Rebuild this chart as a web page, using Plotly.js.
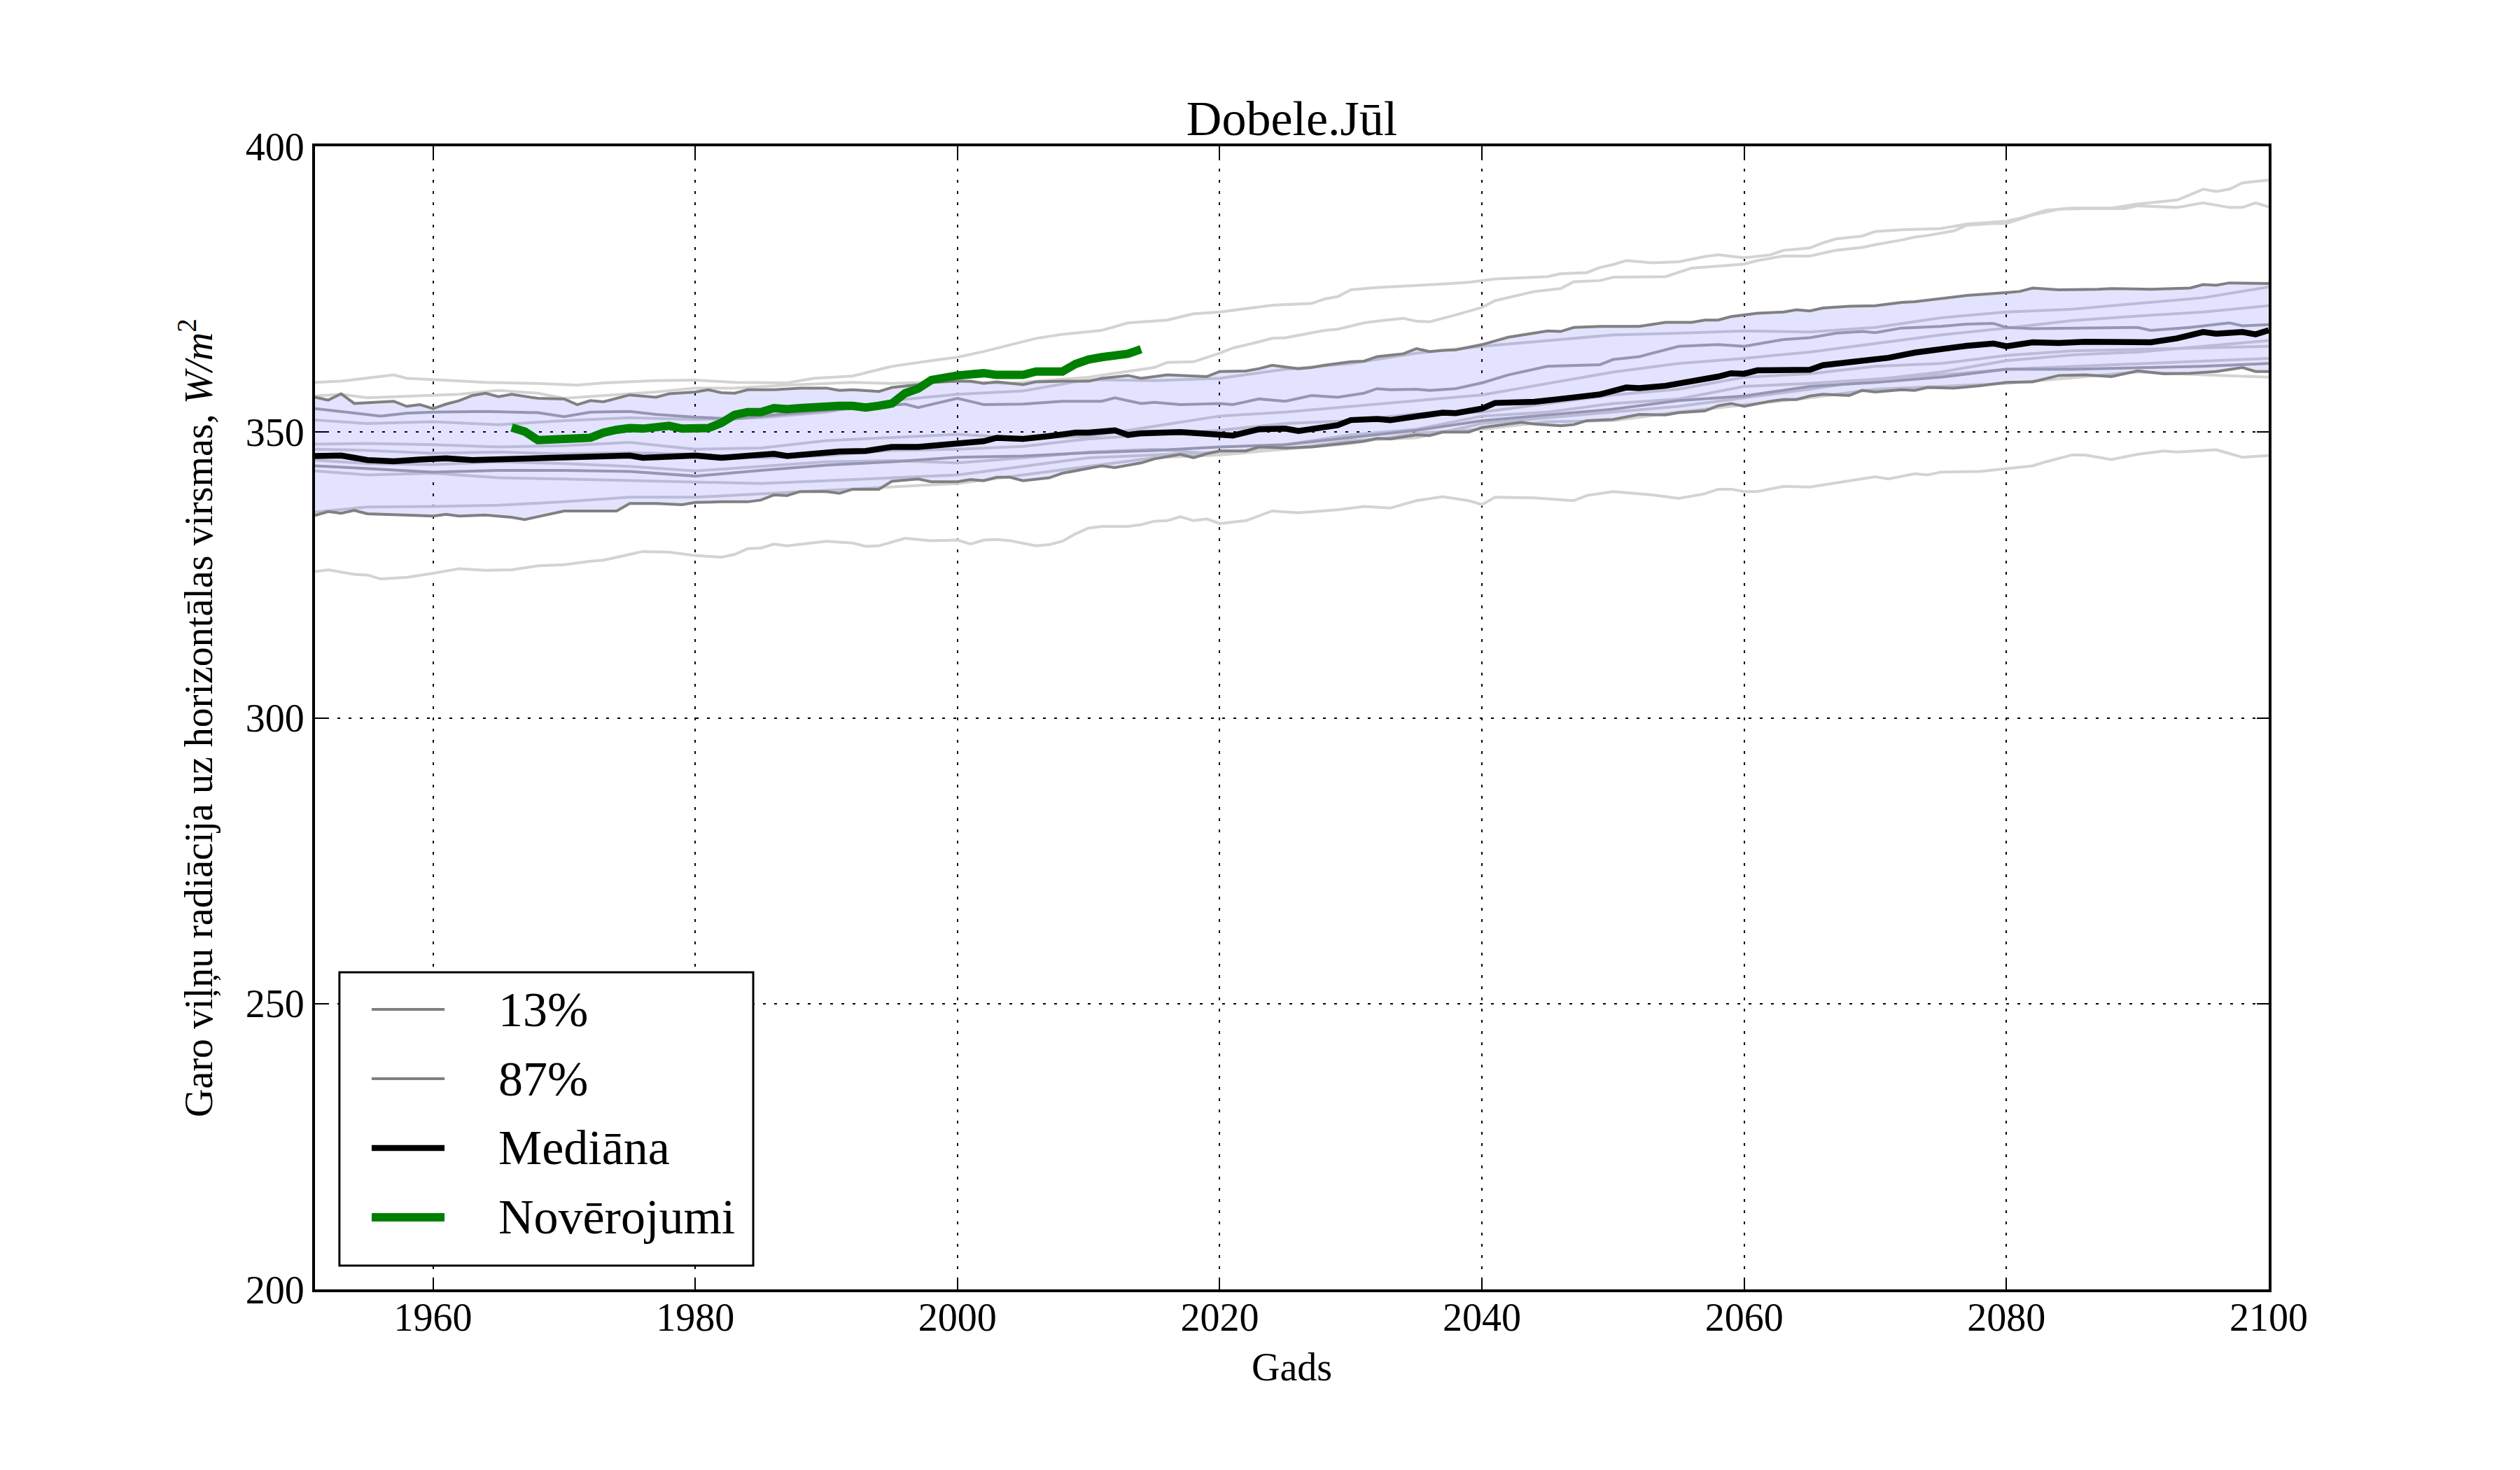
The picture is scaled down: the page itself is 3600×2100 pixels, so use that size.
<!DOCTYPE html>
<html>
<head>
<meta charset="utf-8">
<script src="https://cdn.plot.ly/plotly-3.0.1.min.js"></script>
<style>html,body{margin:0;padding:0;background:#fff;}#chart{width:3600px;height:2100px;}</style>
</head>
<body>
<div id="chart"></div>
<script>
// ---------------- data ----------------
const titleText = "Dobele.Jūl";
const xTitle = "Gads";
const yTitle = "Garo viļņu radiācija uz horizontālas virsmas, <i>W/m</i><sup>2</sup>";
const xTicks = [1960, 1980, 2000, 2020, 2040, 2060, 2080, 2100];
const yTicks = [200, 250, 300, 350, 400];
const legendNames = ["13%", "87%", "Mediāna", "Novērojumi"];

const obsYears = [1966,1967,1968,1969,1970,1971,1972,1973,1974,1975,1976,1977,1978,1979,1980,1981,1982,1983,1984,1985,1986,1987,1988,1989,1990,1991,1992,1993,1994,1995,1996,1997,1998,1999,2000,2001,2002,2003,2004,2005,2006,2007,2008,2009,2010,2011,2012,2013,2014];
const obsVals = [350.8,350.1,348.6,348.6,348.7,348.9,349.0,349.9,350.4,350.7,350.6,350.9,351.1,350.6,350.5,350.7,351.6,353.0,353.5,353.5,354.2,354.0,354.2,354.4,354.6,354.6,354.6,354.3,354.6,355.0,356.8,357.6,359.1,359.6,359.9,360.1,360.3,360.0,360.0,360.0,360.6,360.7,360.6,361.9,362.7,363.1,363.4,363.7,364.5];

const medYears = [1951,1953,1955,1957,1959,1961,1963,1966,1968,1970,1973,1975,1976,1978,1980,1982,1984,1986,1987,1989,1991,1993,1995,1997,2000,2002,2003,2005,2007,2009,2010,2011,2012,2013,2014,2017,2019,2020,2021,2023,2025,2026,2028,2029,2030,2032,2033,2035,2037,2038,2040,2041,2044,2046,2048,2049,2051,2052,2054,2056,2058,2059,2060,2061,2063,2065,2066,2068,2070,2071,2073,2075,2077,2079,2080,2082,2084,2086,2089,2091,2093,2095,2096,2098,2099,2100];
const medVals = [345.8,345.9,345.1,344.9,345.2,345.4,345.1,345.3,345.3,345.6,345.7,345.9,345.5,345.7,345.9,345.5,345.9,346.2,345.8,346.2,346.6,346.7,347.4,347.4,348.0,348.4,349.0,348.8,349.3,349.9,349.9,350.2,350.3,349.5,349.8,350.0,349.7,349.7,349.4,350.5,350.6,350.2,351.0,351.2,352.1,352.3,352.1,352.8,353.4,353.3,354.1,355.1,355.3,355.8,356.2,356.6,357.8,357.7,358.1,358.8,359.7,360.3,360.2,360.8,360.9,360.9,361.7,362.2,362.6,363.0,363.9,364.6,365.1,365.5,365.0,365.7,365.6,365.8,365.8,365.7,366.4,367.5,367.2,367.5,367.1,367.8];

const p87Years = [1951,1952,1953,1954,1957,1958,1959,1960,1961,1962,1963,1964,1965,1966,1968,1970,1971,1972,1973,1975,1977,1978,1980,1981,1982,1983,1984,1986,1988,1990,1991,1992,1994,1995,1997,1998,2000,2001,2002,2003,2005,2006,2008,2010,2011,2013,2014,2016,2019,2020,2022,2023,2024,2026,2027,2028,2030,2031,2032,2034,2035,2036,2037,2038,2040,2042,2045,2046,2047,2049,2052,2054,2056,2057,2058,2059,2061,2063,2064,2065,2066,2068,2070,2072,2073,2075,2077,2080,2081,2082,2084,2087,2088,2091,2093,2094,2095,2096,2097,2100];
const p87Vals = [356.1,355.6,356.7,355.0,355.4,354.5,354.8,354.1,354.9,355.5,356.4,356.8,356.2,356.6,355.9,355.8,354.8,355.5,355.3,356.5,356.1,356.7,357.0,357.4,356.9,356.8,357.4,357.4,357.7,357.7,357.3,357.4,357.1,357.8,358.3,358.7,358.9,358.9,358.5,358.8,358.3,358.8,358.9,358.9,359.4,359.9,359.4,360.0,359.7,360.6,360.7,361.1,361.7,361.1,361.3,361.7,362.3,362.4,363.2,363.7,364.6,364.1,364.3,364.4,365.3,366.6,367.7,367.6,368.3,368.5,368.5,369.2,369.2,369.6,369.6,370.2,370.8,371.0,371.4,371.2,371.7,372.0,372.1,372.7,372.8,373.3,373.9,374.4,374.6,375.2,374.9,375.0,375.1,375.0,375.2,375.2,375.8,375.7,376.1,376.0];

const p13Years = [1951,1952,1953,1954,1955,1957,1959,1960,1961,1962,1964,1966,1967,1968,1970,1972,1974,1975,1977,1979,1980,1982,1984,1985,1986,1987,1988,1990,1991,1992,1994,1995,1997,1998,2000,2001,2002,2003,2004,2005,2007,2008,2010,2011,2012,2014,2015,2017,2018,2019,2020,2022,2023,2025,2027,2029,2031,2032,2033,2035,2036,2037,2039,2040,2042,2043,2044,2046,2047,2048,2050,2052,2054,2055,2057,2058,2059,2060,2062,2063,2064,2065,2066,2068,2069,2070,2072,2073,2074,2076,2078,2080,2082,2084,2086,2088,2090,2092,2094,2096,2098,2099,2100];
const p13Vals = [335.4,336.1,335.8,336.3,335.7,335.6,335.4,335.3,335.6,335.3,335.5,335.1,334.7,335.2,336.2,336.2,336.2,337.5,337.5,337.3,337.7,337.8,337.8,338.1,339.0,338.9,339.6,339.6,339.3,340.0,340.0,341.4,341.8,341.3,341.3,341.7,341.5,342.1,342.1,341.5,342.0,342.8,343.6,344.1,343.8,344.6,345.3,346.1,345.5,346.2,346.7,346.7,347.4,347.2,347.4,347.9,348.4,348.9,348.8,349.5,349.4,350.0,350.0,350.8,351.4,351.7,351.4,351.1,351.3,352.0,352.2,353.1,353.0,353.4,353.7,354.6,355.0,354.5,355.4,355.7,355.7,356.3,356.6,356.4,357.3,357.0,357.4,357.3,357.8,357.7,358.1,358.7,358.8,359.9,360.0,359.7,360.7,360.2,360.3,360.6,361.3,360.6,360.6];

// ensemble members outside the band (light gray)
const topAYears = [1951,1953,1957,1958,1960,1964,1968,1971,1973,1977,1980,1983,1987,1989,1992,1995,1998,2000,2002,2004,2006,2008,2011,2013,2016,2018,2020,2023,2024,2027,2028,2029,2030,2032,2035,2037,2039,2041,2045,2046,2048,2049,2050,2051,2053,2055,2057,2058,2060,2062,2063,2065,2066,2067,2069,2070,2072,2075,2077,2079,2080,2081,2083,2085,2088,2090,2092,2093,2094,2095,2096,2097,2098,2100];
const topAVals = [358.7,358.9,360.0,359.4,359.2,358.7,358.5,358.2,358.6,359.0,359.1,358.7,358.6,359.4,359.8,361.5,362.5,363.1,364.1,365.3,366.4,367.1,367.8,369.1,369.6,370.7,371.0,371.9,372.2,372.5,373.3,373.7,374.9,375.3,375.6,375.9,376.2,376.8,377.2,377.7,377.9,378.8,379.3,380.0,379.6,379.8,380.7,381.0,380.5,381.0,381.8,382.2,383.1,383.8,384.3,385.1,385.4,385.6,386.4,386.7,386.9,387.4,388.8,389.2,389.2,389.9,390.4,390.6,391.5,392.5,392.1,392.5,393.6,394.1];
const topBYears = [1951,1953,1955,1960,1962,1965,1968,1970,1972,1977,1980,1983,1987,1992,1995,1997,2000,2002,2004,2006,2008,2010,2012,2015,2016,2018,2020,2021,2023,2024,2025,2028,2029,2031,2032,2034,2035,2036,2038,2040,2041,2044,2046,2047,2049,2050,2054,2056,2059,2060,2061,2063,2065,2066,2067,2069,2070,2072,2073,2074,2076,2077,2079,2080,2082,2084,2086,2089,2090,2093,2095,2097,2098,2099,2100];
const topBVals = [356.3,356.6,356.0,356.4,356.6,357.3,356.8,355.9,356.2,357.0,357.7,357.7,358.2,358.7,358.5,358.7,358.9,358.7,358.5,358.9,359.3,359.6,360.3,361.3,362.2,362.3,363.8,364.7,365.8,366.4,366.5,367.8,368.0,369.1,369.4,369.9,369.4,369.3,370.5,371.8,373.0,374.6,375.1,376.3,376.5,377.1,377.2,378.7,379.2,379.4,380.0,380.8,380.8,381.3,381.8,382.3,382.8,383.6,384.1,384.4,385.2,386.2,386.5,386.5,388.0,389.0,389.1,389.1,389.6,389.3,390.1,389.3,389.3,390.1,389.4];
const botYears = [1951,1952,1954,1955,1956,1958,1960,1962,1964,1966,1968,1970,1972,1973,1975,1976,1978,1980,1982,1983,1984,1985,1986,1987,1990,1992,1993,1994,1996,1998,2000,2001,2002,2003,2004,2006,2007,2008,2009,2010,2011,2013,2014,2015,2016,2017,2018,2019,2020,2022,2024,2026,2029,2031,2033,2035,2037,2039,2040,2041,2044,2047,2048,2050,2053,2055,2057,2058,2059,2060,2061,2063,2065,2067,2070,2071,2073,2074,2075,2078,2080,2082,2083,2085,2086,2088,2090,2092,2093,2094,2096,2098,2100];
const botVals = [325.6,325.9,325.1,325.0,324.3,324.6,325.3,326.1,325.8,325.9,326.6,326.8,327.4,327.6,328.6,329.1,329.0,328.4,328.1,328.6,329.6,329.7,330.4,330.1,330.9,330.6,330.0,330.1,331.4,331.0,331.1,330.4,331.1,331.2,331.0,330.1,330.3,330.9,332.2,333.2,333.5,333.5,333.8,334.4,334.5,335.2,334.5,334.8,334.0,334.5,336.2,335.9,336.4,337.0,336.7,338.0,338.7,338.0,337.3,338.6,338.5,338.0,338.9,339.6,339.0,338.4,339.2,340.0,340.0,339.6,339.6,340.5,340.4,341.1,342.2,341.8,342.7,342.5,343.0,343.1,343.6,344.1,344.8,346.0,346.0,345.2,346.1,346.7,346.5,346.6,346.9,345.6,345.9];

// ensemble members inside the band
const bandYears = [1951,1955,1960,1965,1970,1975,1980,1985,1990,1995,2000,2005,2010,2015,2020,2025,2030,2035,2040,2045,2050,2055,2060,2065,2070,2075,2080,2085,2090,2095,2100];
const memAVals = [352.1,351.5,351.8,351.3,352.0,352.5,352.2,352.5,353.5,355.5,356.6,357.2,359.2,359.0,359.4,361.0,362.0,363.8,365.0,366.0,367.0,367.3,367.7,367.5,368.3,370.0,371.0,371.5,372.5,373.5,375.4];
const memBVals = [347.9,348.0,347.8,347.4,347.6,348.2,347.0,347.2,348.5,349.0,349.6,349.0,349.2,351.0,352.8,353.5,354.5,355.5,356.5,358.5,360.5,362.0,362.9,364.0,365.5,367.0,368.2,369.5,370.3,371.0,372.1];
const memCVals = [347.0,346.8,346.3,346.5,346.2,346.4,346.1,345.5,345.9,346.8,347.0,347.5,348.8,349.5,350.3,351.5,352.0,353.2,353.5,355.0,356.5,357.5,359.6,360.2,361.5,362.0,363.4,364.2,364.5,364.8,365.0];
const memDVals = [345.1,344.5,344.3,344.8,344.5,344.0,343.2,344.0,344.8,345.0,344.6,345.5,346.5,347.0,346.1,347.8,349.5,350.5,352.8,353.5,355.0,355.8,358.0,358.5,359.2,360.0,361.0,361.5,362.0,362.5,362.9];
const memEVals = [343.2,342.5,342.8,342.0,341.8,341.5,341.2,341.0,341.5,342.0,342.5,344.0,345.5,346.0,346.5,347.0,348.5,349.0,351.5,352.5,353.5,354.5,356.0,357.5,359.2,360.5,362.5,363.5,364.0,365.0,366.0];
const memFVals = [336.0,336.9,337.0,337.2,337.8,338.6,338.6,339.2,339.9,340.5,341.0,342.5,344.0,345.5,346.0,347.0,348.0,349.8,350.5,351.8,352.0,353.5,354.8,356.0,357.5,358.0,358.5,359.5,360.5,360.0,359.6];
const mem1Years = [1951,1953,1955,1956,1958,1960,1964,1968,1970,1972,1975,1977,1980,1983,1986,1990,1994,1996,1997,2000,2002,2005,2008,2011,2012,2014,2015,2017,2020,2021,2023,2025,2027,2029,2031,2032,2033,2035,2036,2038,2040,2042,2045,2049,2050,2052,2055,2058,2060,2063,2065,2067,2069,2070,2072,2075,2077,2079,2080,2082,2090,2091,2094,2097,2098,2100];
const mem1Vals = [354.1,353.6,353.1,352.8,353.3,353.5,353.6,353.4,352.7,353.5,353.6,353.1,352.6,352.3,353.0,353.8,354.5,354.9,354.3,355.9,354.8,354.9,355.4,355.4,356.0,355.0,355.2,354.8,355.0,354.8,355.8,355.4,356.4,356.1,356.8,357.6,357.4,357.5,357.3,357.6,358.6,360.0,361.5,361.8,362.7,363.2,365.0,365.3,365.0,366.2,366.5,367.3,367.6,367.4,368.2,368.5,368.9,369.0,368.3,368.1,368.3,367.8,368.3,369.1,368.6,368.8];
const mem2Vals = [344.1,343.6,343.0,343.3,343.3,343.1,342.3,343.3,344.2,344.8,345.6,345.8,346.4,346.8,347.4,347.8,349.0,350.3,352.0,353.0,354.0,355.5,356.3,358.0,358.7,359.6,361.0,361.0,361.3,361.5,362.0];

// ---------------- traces ----------------
const lightGray = '#d3d3d3';
const midGray = '#a9a9a9';
const traces = [];
function member(x, y, color) {
  traces.push({x: x, y: y, type: 'scatter', mode: 'lines', showlegend: false, hoverinfo: 'skip',
               line: {color: color, width: 4}});
}
member(topAYears, topAVals, lightGray);
member(topBYears, topBVals, lightGray);
member(botYears, botVals, lightGray);
member(bandYears, memAVals, lightGray);
member(bandYears, memBVals, lightGray);
member(bandYears, memCVals, lightGray);
member(bandYears, memDVals, lightGray);
member(bandYears, memEVals, lightGray);
member(bandYears, memFVals, lightGray);
member(mem1Years, mem1Vals, midGray);
member(bandYears, mem2Vals, midGray);

// shaded band between the 13% and 87% curves
traces.push({
  x: p13Years.concat(p87Years.slice().reverse()),
  y: p13Vals.concat(p87Vals.slice().reverse()),
  type: 'scatter', mode: 'lines', fill: 'toself', fillcolor: 'rgba(0,0,255,0.11)',
  line: {width: 0, color: 'rgba(0,0,0,0)'}, showlegend: false, hoverinfo: 'skip'
});

const seriesStyle = [
  {color: '#808080', width: 4},
  {color: '#808080', width: 4},
  {color: '#000000', width: 8.5},
  {color: '#008000', width: 12}
];
traces.push({x: p13Years, y: p13Vals, type: 'scatter', mode: 'lines', name: legendNames[0],
             showlegend: false, line: seriesStyle[0]});
traces.push({x: p87Years, y: p87Vals, type: 'scatter', mode: 'lines', name: legendNames[1],
             showlegend: false, line: seriesStyle[1]});
traces.push({x: medYears, y: medVals, type: 'scatter', mode: 'lines', name: legendNames[2],
             showlegend: false, line: seriesStyle[2]});
traces.push({x: obsYears, y: obsVals, type: 'scatter', mode: 'lines', name: legendNames[3],
             showlegend: false, line: seriesStyle[3]});

const font = 'Liberation Serif, Times New Roman, serif';
const axisCommon = {
  showline: true, linecolor: '#000', linewidth: 4, mirror: 'ticks',
  ticks: 'inside', ticklen: 17, tickwidth: 2, tickcolor: '#000',
  showgrid: true, gridcolor: '#000', gridwidth: 2, griddash: '4px,12px',
  zeroline: false, tickfont: {family: font, size: 56, color: '#000'},
  automargin: false
};

// legend box (matplotlib-style) built from shapes + annotations in paper coordinates
const legBox = {x0: 0.0125, x1: 0.2243, y0: 0.0208, y1: 0.2774};
const legRowsY = [0.2449, 0.1843, 0.1237, 0.0631];
const legLineX = [0.0290, 0.0663];
const legTextX = 0.0930;
const shapes = [{
  type: 'rect', xref: 'paper', yref: 'paper', layer: 'above',
  x0: legBox.x0, x1: legBox.x1, y0: legBox.y0, y1: legBox.y1,
  fillcolor: '#ffffff', line: {color: '#000', width: 3}
}];
const annotations = [];
legendNames.forEach(function (name, i) {
  shapes.push({type: 'line', xref: 'paper', yref: 'paper', layer: 'above',
               x0: legLineX[0], x1: legLineX[1], y0: legRowsY[i], y1: legRowsY[i],
               line: {color: seriesStyle[i].color, width: seriesStyle[i].width}});
  annotations.push({xref: 'paper', yref: 'paper', x: legTextX, y: legRowsY[i],
                    xanchor: 'left', yanchor: 'middle', showarrow: false, text: name,
                    font: {family: font, size: 70, color: '#000'}});
});

const layout = {
  width: 3600, height: 2100,
  paper_bgcolor: '#fff', plot_bgcolor: '#fff',
  margin: {l: 450, r: 359, t: 209, b: 258, pad: 0},
  font: {family: font, color: '#000'},
  title: {text: titleText, font: {family: font, size: 70, color: '#000'},
          x: 0.5, xref: 'paper', y: 0.92, yref: 'container', yanchor: 'middle'},
  xaxis: Object.assign({}, axisCommon, {
    range: [1951, 2100], tickvals: xTicks, ticktext: xTicks.map(String),
    ticklabelstandoff: -12,
    title: {text: xTitle, font: {family: font, size: 56, color: '#000'}, standoff: 22}
  }),
  yaxis: Object.assign({}, axisCommon, {
    range: [200, 400], tickvals: yTicks, ticktext: yTicks.map(String),
    title: {text: yTitle, font: {family: font, size: 56, color: '#000'}, standoff: 30}
  }),
  showlegend: false,
  shapes: shapes,
  annotations: annotations
};

Plotly.newPlot('chart', traces, layout, {staticPlot: true, displayModeBar: false});
</script>
</body>
</html>
